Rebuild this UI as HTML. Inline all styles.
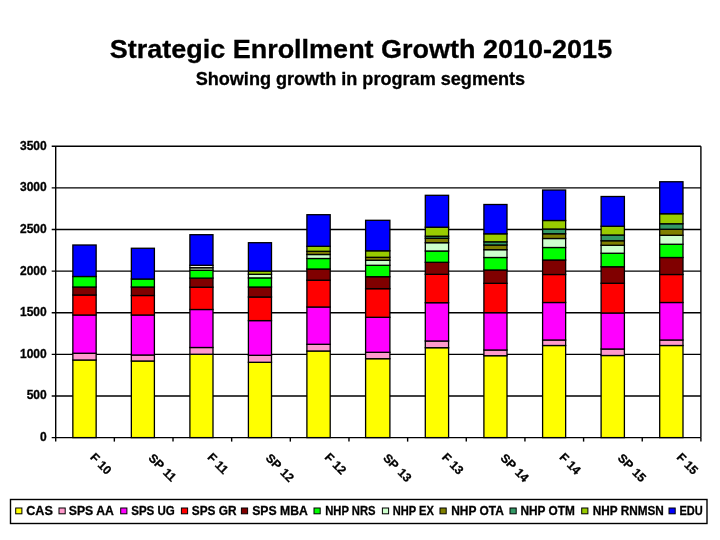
<!DOCTYPE html>
<html><head><meta charset="utf-8"><title>Strategic Enrollment Growth 2010-2015</title>
<style>html,body{margin:0;padding:0;background:#fff;}svg{display:block;}text{stroke:#000;stroke-width:0.3px;font-family:"Liberation Sans",sans-serif;font-weight:bold;fill:#000;}</style></head><body>
<svg width="720" height="540" viewBox="0 0 720 540">
<rect x="0" y="0" width="720" height="540" fill="#fff"/>
<text x="360.9" y="58.2" font-size="26" text-anchor="middle" textLength="502.5" lengthAdjust="spacingAndGlyphs">Strategic Enrollment Growth 2010-2015</text>
<text x="360.4" y="84.6" font-size="17.5" text-anchor="middle" textLength="329.5" lengthAdjust="spacingAndGlyphs">Showing growth in program segments</text>
<g stroke="#000" stroke-width="1.4" fill="none">
<line x1="51.70" y1="146.20" x2="700.90" y2="146.20"/>
<line x1="51.70" y1="187.83" x2="700.90" y2="187.83"/>
<line x1="51.70" y1="229.46" x2="700.90" y2="229.46"/>
<line x1="51.70" y1="271.09" x2="700.90" y2="271.09"/>
<line x1="51.70" y1="312.71" x2="700.90" y2="312.71"/>
<line x1="51.70" y1="354.34" x2="700.90" y2="354.34"/>
<line x1="51.70" y1="395.97" x2="700.90" y2="395.97"/>
<line x1="51.70" y1="437.60" x2="700.90" y2="437.60"/>
<line x1="55.70" y1="146.20" x2="55.70" y2="437.60"/>
<line x1="700.90" y1="146.20" x2="700.90" y2="437.60"/>
<line x1="55.70" y1="437.60" x2="55.70" y2="441.60"/>
<line x1="114.35" y1="437.60" x2="114.35" y2="441.60"/>
<line x1="173.01" y1="437.60" x2="173.01" y2="441.60"/>
<line x1="231.66" y1="437.60" x2="231.66" y2="441.60"/>
<line x1="290.32" y1="437.60" x2="290.32" y2="441.60"/>
<line x1="348.97" y1="437.60" x2="348.97" y2="441.60"/>
<line x1="407.63" y1="437.60" x2="407.63" y2="441.60"/>
<line x1="466.28" y1="437.60" x2="466.28" y2="441.60"/>
<line x1="524.94" y1="437.60" x2="524.94" y2="441.60"/>
<line x1="583.59" y1="437.60" x2="583.59" y2="441.60"/>
<line x1="642.25" y1="437.60" x2="642.25" y2="441.60"/>
<line x1="700.90" y1="437.60" x2="700.90" y2="441.60"/>
</g>
<g stroke="#000" stroke-width="1.3">
<rect x="72.85" y="360.00" width="23.30" height="77.60" fill="#FFFF00"/>
<rect x="72.85" y="353.25" width="23.30" height="6.75" fill="#FF99CC"/>
<rect x="72.85" y="315.00" width="23.30" height="38.25" fill="#FF00FF"/>
<rect x="72.85" y="295.00" width="23.30" height="20.00" fill="#FF0000"/>
<rect x="72.85" y="287.00" width="23.30" height="8.00" fill="#800000"/>
<rect x="72.85" y="276.50" width="23.30" height="10.50" fill="#00FF00"/>
<rect x="72.85" y="245.00" width="23.30" height="31.50" fill="#0000FF"/>
<rect x="131.35" y="361.00" width="23.05" height="76.60" fill="#FFFF00"/>
<rect x="131.35" y="355.00" width="23.05" height="6.00" fill="#FF99CC"/>
<rect x="131.35" y="315.00" width="23.05" height="40.00" fill="#FF00FF"/>
<rect x="131.35" y="295.50" width="23.05" height="19.50" fill="#FF0000"/>
<rect x="131.35" y="287.00" width="23.05" height="8.50" fill="#800000"/>
<rect x="131.35" y="279.00" width="23.05" height="8.00" fill="#00FF00"/>
<rect x="131.35" y="248.25" width="23.05" height="30.75" fill="#0000FF"/>
<rect x="189.90" y="354.25" width="23.10" height="83.35" fill="#FFFF00"/>
<rect x="189.90" y="347.50" width="23.10" height="6.75" fill="#FF99CC"/>
<rect x="189.90" y="309.50" width="23.10" height="38.00" fill="#FF00FF"/>
<rect x="189.90" y="287.20" width="23.10" height="22.30" fill="#FF0000"/>
<rect x="189.90" y="278.10" width="23.10" height="9.10" fill="#800000"/>
<rect x="189.90" y="270.30" width="23.10" height="7.80" fill="#00FF00"/>
<rect x="189.90" y="267.70" width="23.10" height="2.60" fill="#B8D8A0"/>
<rect x="189.90" y="265.30" width="23.10" height="2.40" fill="#F0F4E0"/>
<rect x="189.90" y="234.70" width="23.10" height="30.60" fill="#0000FF"/>
<rect x="248.40" y="362.30" width="23.10" height="75.30" fill="#FFFF00"/>
<rect x="248.40" y="355.30" width="23.10" height="7.00" fill="#FF99CC"/>
<rect x="248.40" y="320.60" width="23.10" height="34.70" fill="#FF00FF"/>
<rect x="248.40" y="297.00" width="23.10" height="23.60" fill="#FF0000"/>
<rect x="248.40" y="287.00" width="23.10" height="10.00" fill="#800000"/>
<rect x="248.40" y="277.90" width="23.10" height="9.10" fill="#00FF00"/>
<rect x="248.40" y="274.30" width="23.10" height="3.60" fill="#CCFFCC"/>
<rect x="248.40" y="271.10" width="23.10" height="3.20" fill="#99CC00"/>
<rect x="248.40" y="242.70" width="23.10" height="28.40" fill="#0000FF"/>
<rect x="306.90" y="351.00" width="23.30" height="86.60" fill="#FFFF00"/>
<rect x="306.90" y="344.30" width="23.30" height="6.70" fill="#FF99CC"/>
<rect x="306.90" y="307.00" width="23.30" height="37.30" fill="#FF00FF"/>
<rect x="306.90" y="280.20" width="23.30" height="26.80" fill="#FF0000"/>
<rect x="306.90" y="269.00" width="23.30" height="11.20" fill="#800000"/>
<rect x="306.90" y="258.50" width="23.30" height="10.50" fill="#00FF00"/>
<rect x="306.90" y="254.50" width="23.30" height="4.00" fill="#CCFFCC"/>
<rect x="306.90" y="251.30" width="23.30" height="3.20" fill="#808000"/>
<rect x="306.90" y="246.30" width="23.30" height="5.00" fill="#99CC00"/>
<rect x="306.90" y="214.70" width="23.30" height="31.60" fill="#0000FF"/>
<rect x="365.60" y="358.70" width="24.30" height="78.90" fill="#FFFF00"/>
<rect x="365.60" y="352.30" width="24.30" height="6.40" fill="#FF99CC"/>
<rect x="365.60" y="317.30" width="24.30" height="35.00" fill="#FF00FF"/>
<rect x="365.60" y="288.70" width="24.30" height="28.60" fill="#FF0000"/>
<rect x="365.60" y="276.70" width="24.30" height="12.00" fill="#800000"/>
<rect x="365.60" y="265.30" width="24.30" height="11.40" fill="#00FF00"/>
<rect x="365.60" y="260.30" width="24.30" height="5.00" fill="#CCFFCC"/>
<rect x="365.60" y="257.30" width="24.30" height="3.00" fill="#808000"/>
<rect x="365.60" y="250.80" width="24.30" height="6.50" fill="#99CC00"/>
<rect x="365.60" y="220.30" width="24.30" height="30.50" fill="#0000FF"/>
<rect x="425.30" y="347.70" width="23.30" height="89.90" fill="#FFFF00"/>
<rect x="425.30" y="341.00" width="23.30" height="6.70" fill="#FF99CC"/>
<rect x="425.30" y="302.70" width="23.30" height="38.30" fill="#FF00FF"/>
<rect x="425.30" y="274.30" width="23.30" height="28.40" fill="#FF0000"/>
<rect x="425.30" y="262.30" width="23.30" height="12.00" fill="#800000"/>
<rect x="425.30" y="251.00" width="23.30" height="11.30" fill="#00FF00"/>
<rect x="425.30" y="242.70" width="23.30" height="8.30" fill="#CCFFCC"/>
<rect x="425.30" y="238.30" width="23.30" height="4.40" fill="#808000"/>
<rect x="425.30" y="236.20" width="23.30" height="2.10" fill="#339966"/>
<rect x="425.30" y="227.20" width="23.30" height="9.00" fill="#99CC00"/>
<rect x="425.30" y="195.30" width="23.30" height="31.90" fill="#0000FF"/>
<rect x="483.90" y="355.70" width="23.10" height="81.90" fill="#FFFF00"/>
<rect x="483.90" y="350.00" width="23.10" height="5.70" fill="#FF99CC"/>
<rect x="483.90" y="312.70" width="23.10" height="37.30" fill="#FF00FF"/>
<rect x="483.90" y="283.30" width="23.10" height="29.40" fill="#FF0000"/>
<rect x="483.90" y="270.00" width="23.10" height="13.30" fill="#800000"/>
<rect x="483.90" y="257.50" width="23.10" height="12.50" fill="#00FF00"/>
<rect x="483.90" y="249.70" width="23.10" height="7.80" fill="#CCFFCC"/>
<rect x="483.90" y="245.00" width="23.10" height="4.70" fill="#808000"/>
<rect x="483.90" y="241.80" width="23.10" height="3.20" fill="#339966"/>
<rect x="483.90" y="233.80" width="23.10" height="8.00" fill="#99CC00"/>
<rect x="483.90" y="204.50" width="23.10" height="29.30" fill="#0000FF"/>
<rect x="542.60" y="345.50" width="23.05" height="92.10" fill="#FFFF00"/>
<rect x="542.60" y="340.00" width="23.05" height="5.50" fill="#FF99CC"/>
<rect x="542.60" y="302.50" width="23.05" height="37.50" fill="#FF00FF"/>
<rect x="542.60" y="274.50" width="23.05" height="28.00" fill="#FF0000"/>
<rect x="542.60" y="260.00" width="23.05" height="14.50" fill="#800000"/>
<rect x="542.60" y="247.50" width="23.05" height="12.50" fill="#00FF00"/>
<rect x="542.60" y="238.50" width="23.05" height="9.00" fill="#CCFFCC"/>
<rect x="542.60" y="233.75" width="23.05" height="4.75" fill="#808000"/>
<rect x="542.60" y="229.00" width="23.05" height="4.75" fill="#339966"/>
<rect x="542.60" y="220.50" width="23.05" height="8.50" fill="#99CC00"/>
<rect x="542.60" y="190.00" width="23.05" height="30.50" fill="#0000FF"/>
<rect x="601.10" y="355.50" width="23.30" height="82.10" fill="#FFFF00"/>
<rect x="601.10" y="349.00" width="23.30" height="6.50" fill="#FF99CC"/>
<rect x="601.10" y="313.00" width="23.30" height="36.00" fill="#FF00FF"/>
<rect x="601.10" y="283.25" width="23.30" height="29.75" fill="#FF0000"/>
<rect x="601.10" y="266.75" width="23.30" height="16.50" fill="#800000"/>
<rect x="601.10" y="253.25" width="23.30" height="13.50" fill="#00FF00"/>
<rect x="601.10" y="245.25" width="23.30" height="8.00" fill="#CCFFCC"/>
<rect x="601.10" y="240.75" width="23.30" height="4.50" fill="#808000"/>
<rect x="601.10" y="235.00" width="23.30" height="5.75" fill="#339966"/>
<rect x="601.10" y="226.25" width="23.30" height="8.75" fill="#99CC00"/>
<rect x="601.10" y="196.50" width="23.30" height="29.75" fill="#0000FF"/>
<rect x="659.70" y="345.50" width="23.30" height="92.10" fill="#FFFF00"/>
<rect x="659.70" y="340.00" width="23.30" height="5.50" fill="#FF99CC"/>
<rect x="659.70" y="302.50" width="23.30" height="37.50" fill="#FF00FF"/>
<rect x="659.70" y="274.50" width="23.30" height="28.00" fill="#FF0000"/>
<rect x="659.70" y="257.50" width="23.30" height="17.00" fill="#800000"/>
<rect x="659.70" y="244.25" width="23.30" height="13.25" fill="#00FF00"/>
<rect x="659.70" y="235.25" width="23.30" height="9.00" fill="#CCFFCC"/>
<rect x="659.70" y="229.25" width="23.30" height="6.00" fill="#808000"/>
<rect x="659.70" y="223.75" width="23.30" height="5.50" fill="#339966"/>
<rect x="659.70" y="213.75" width="23.30" height="10.00" fill="#99CC00"/>
<rect x="659.70" y="181.75" width="23.30" height="32.00" fill="#0000FF"/>
</g>
<text x="46.7" y="149.70" font-size="12" text-anchor="end">3500</text>
<text x="46.7" y="191.33" font-size="12" text-anchor="end">3000</text>
<text x="46.7" y="232.96" font-size="12" text-anchor="end">2500</text>
<text x="46.7" y="274.59" font-size="12" text-anchor="end">2000</text>
<text x="46.7" y="316.21" font-size="12" text-anchor="end">1500</text>
<text x="46.7" y="357.84" font-size="12" text-anchor="end">1000</text>
<text x="46.7" y="399.47" font-size="12" text-anchor="end">500</text>
<text x="46.7" y="441.10" font-size="12" text-anchor="end">0</text>
<text transform="translate(89.43,458.10) rotate(45)" font-size="12.1" word-spacing="0">F 10</text>
<text transform="translate(147.78,458.80) rotate(45)" font-size="12.1" word-spacing="1.2">SP 11</text>
<text transform="translate(206.74,458.10) rotate(45)" font-size="12.1" word-spacing="0">F 11</text>
<text transform="translate(265.09,458.80) rotate(45)" font-size="12.1" word-spacing="1.2">SP 12</text>
<text transform="translate(324.05,458.10) rotate(45)" font-size="12.1" word-spacing="0">F 12</text>
<text transform="translate(382.40,458.80) rotate(45)" font-size="12.1" word-spacing="1.2">SP 13</text>
<text transform="translate(441.35,458.10) rotate(45)" font-size="12.1" word-spacing="0">F 13</text>
<text transform="translate(499.71,458.80) rotate(45)" font-size="12.1" word-spacing="1.2">SP 14</text>
<text transform="translate(558.66,458.10) rotate(45)" font-size="12.1" word-spacing="0">F 14</text>
<text transform="translate(617.02,458.80) rotate(45)" font-size="12.1" word-spacing="1.2">SP 15</text>
<text transform="translate(675.97,458.10) rotate(45)" font-size="12.1" word-spacing="0">F 15</text>
<rect x="10.5" y="499.5" width="696.5" height="24" fill="#fff" stroke="#000" stroke-width="1.4"/>
<rect x="15.70" y="508" width="6.2" height="5.8" fill="#FFFF00" stroke="#000" stroke-width="1"/>
<text x="26.20" y="515.4" font-size="12" textLength="26.6" lengthAdjust="spacingAndGlyphs">CAS</text>
<rect x="59.00" y="508" width="6.2" height="5.8" fill="#FF99CC" stroke="#000" stroke-width="1"/>
<text x="68.80" y="515.4" font-size="12" textLength="45.0" lengthAdjust="spacingAndGlyphs">SPS AA</text>
<rect x="120.70" y="508" width="6.2" height="5.8" fill="#FF00FF" stroke="#000" stroke-width="1"/>
<text x="131.20" y="515.4" font-size="12" textLength="43.6" lengthAdjust="spacingAndGlyphs">SPS UG</text>
<rect x="181.40" y="508" width="6.2" height="5.8" fill="#FF0000" stroke="#000" stroke-width="1"/>
<text x="191.80" y="515.4" font-size="12" textLength="44.7" lengthAdjust="spacingAndGlyphs">SPS GR</text>
<rect x="241.40" y="508" width="6.2" height="5.8" fill="#800000" stroke="#000" stroke-width="1"/>
<text x="252.20" y="515.4" font-size="12" textLength="55.6" lengthAdjust="spacingAndGlyphs">SPS MBA</text>
<rect x="314.00" y="508" width="6.2" height="5.8" fill="#00FF00" stroke="#000" stroke-width="1"/>
<text x="325.20" y="515.4" font-size="12" textLength="50.3" lengthAdjust="spacingAndGlyphs">NHP NRS</text>
<rect x="382.40" y="508" width="6.2" height="5.8" fill="#CCFFCC" stroke="#000" stroke-width="1"/>
<text x="392.80" y="515.4" font-size="12" textLength="41.0" lengthAdjust="spacingAndGlyphs">NHP EX</text>
<rect x="440.00" y="508" width="6.2" height="5.8" fill="#808000" stroke="#000" stroke-width="1"/>
<text x="451.20" y="515.4" font-size="12" textLength="52.6" lengthAdjust="spacingAndGlyphs">NHP OTA</text>
<rect x="510.00" y="508" width="6.2" height="5.8" fill="#339966" stroke="#000" stroke-width="1"/>
<text x="520.50" y="515.4" font-size="12" textLength="54.3" lengthAdjust="spacingAndGlyphs">NHP OTM</text>
<rect x="581.70" y="508" width="6.2" height="5.8" fill="#99CC00" stroke="#000" stroke-width="1"/>
<text x="592.80" y="515.4" font-size="12" textLength="71.0" lengthAdjust="spacingAndGlyphs">NHP RNMSN</text>
<rect x="669.00" y="508" width="6.2" height="5.8" fill="#0000FF" stroke="#000" stroke-width="1"/>
<text x="679.50" y="515.4" font-size="12" textLength="23.3" lengthAdjust="spacingAndGlyphs">EDU</text>
</svg></body></html>
